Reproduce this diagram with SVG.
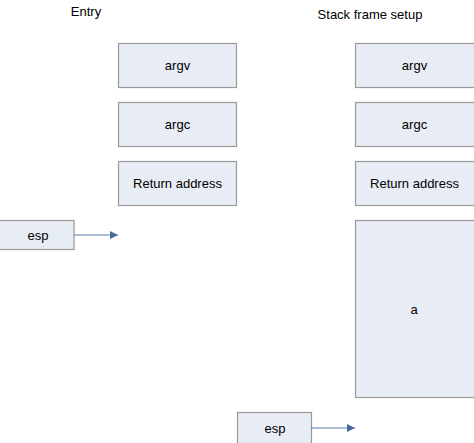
<svg xmlns="http://www.w3.org/2000/svg" width="474" height="443" viewBox="0 0 474 443">
<style>
.box{fill:#e8ecf5;stroke:#9a9a9a;stroke-width:1.2}
.t{font-family:"Liberation Sans",Arial,sans-serif;font-size:13px;fill:#000;text-anchor:middle;dominant-baseline:central}
.c{stroke:#5a7aa8;stroke-width:1;fill:none}
</style>
<defs>
<marker id="ah" markerWidth="10" markerHeight="10" refX="8" refY="4" orient="auto" markerUnits="userSpaceOnUse">
<path d="M0,0 L8,4 L0,8 Z" fill="#4a6a9a"/>
</marker>
</defs>
<rect width="474" height="443" fill="#fff"/>
<text class="t" x="86" y="11">Entry</text>
<text class="t" x="370" y="14">Stack frame setup</text>
<g id="l-argv"><rect class="box" x="118.5" y="43.5" width="118" height="44"/><text class="t" x="177.5" y="65.5">argv</text></g>
<g id="l-argc"><rect class="box" x="118.5" y="102.5" width="118" height="44"/><text class="t" x="177.5" y="124.5">argc</text></g>
<g id="l-ret"><rect class="box" x="118.5" y="161.5" width="118" height="44"/><text class="t" x="177.5" y="183.5">Return address</text></g>
<g id="l-esp"><rect class="box" x="-1" y="220.5" width="75" height="29"/><text class="t" x="38" y="235">esp</text></g>
<g id="r-argv"><rect class="box" x="355.5" y="43.5" width="122" height="44"/><text class="t" x="414.5" y="65.5">argv</text></g>
<g id="r-argc"><rect class="box" x="355.5" y="102.5" width="122" height="44"/><text class="t" x="414.5" y="124.5">argc</text></g>
<g id="r-ret"><rect class="box" x="355.5" y="161.5" width="122" height="44"/><text class="t" x="414.5" y="183.5">Return address</text></g>
<g id="r-a"><rect class="box" x="355.5" y="220.5" width="122" height="177"/><text class="t" x="414" y="309">a</text></g>
<g id="r-esp"><rect class="box" x="237.5" y="412.5" width="74" height="31"/><text class="t" x="275" y="428">esp</text></g>
<g id="connectors">
<line class="c" x1="74" y1="235" x2="118" y2="235" marker-end="url(#ah)"/>
<line class="c" x1="311" y1="428" x2="355" y2="428" marker-end="url(#ah)"/>
</g>
</svg>
